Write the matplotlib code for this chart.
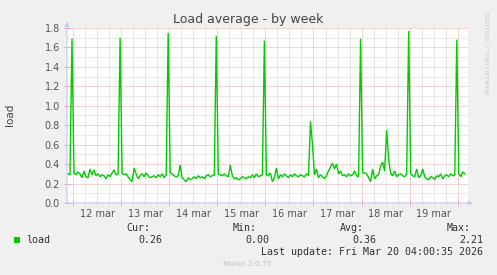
import numpy as np
import matplotlib
matplotlib.use('Agg')
import matplotlib.pyplot as plt
from matplotlib.ticker import MultipleLocator, FuncFormatter
from matplotlib.patches import Rectangle

# load average, one sample per hour, hours counted from 12 mar 00:00
start_11mar = [0.30, 0.29, 1.69]
day_12mar = [0.31, 0.29, 0.32, 0.30, 0.26, 0.33, 0.27, 0.26, 0.35, 0.29, 0.34, 0.28,
             0.30, 0.27, 0.29, 0.28, 0.25, 0.29, 0.27, 0.31, 0.34, 0.29, 0.30, 1.70]
day_13mar = [0.31, 0.29, 0.30, 0.27, 0.24, 0.22, 0.36, 0.30, 0.25, 0.28, 0.30, 0.27,
             0.31, 0.28, 0.26, 0.27, 0.28, 0.26, 0.29, 0.27, 0.30, 0.26, 0.29, 1.75]
day_14mar = [0.31, 0.30, 0.28, 0.27, 0.28, 0.39, 0.26, 0.24, 0.22, 0.26, 0.24, 0.25,
             0.27, 0.25, 0.28, 0.26, 0.27, 0.25, 0.28, 0.29, 0.27, 0.28, 0.29, 1.72]
day_15mar = [0.30, 0.29, 0.28, 0.30, 0.28, 0.27, 0.39, 0.28, 0.25, 0.26, 0.24, 0.25,
             0.27, 0.26, 0.25, 0.27, 0.26, 0.29, 0.26, 0.30, 0.27, 0.28, 0.29, 1.67]
day_16mar = [0.29, 0.28, 0.31, 0.22, 0.26, 0.36, 0.25, 0.29, 0.27, 0.30, 0.28, 0.26,
             0.29, 0.27, 0.30, 0.28, 0.27, 0.29, 0.28, 0.27, 0.30, 0.28, 0.84, 0.60]
day_17mar = [0.29, 0.35, 0.26, 0.29, 0.27, 0.25, 0.28, 0.33, 0.37, 0.41, 0.35, 0.40,
             0.30, 0.33, 0.28, 0.29, 0.27, 0.30, 0.28, 0.29, 0.33, 0.28, 0.27, 1.69]
day_18mar = [0.31, 0.31, 0.30, 0.26, 0.22, 0.35, 0.25, 0.28, 0.29, 0.38, 0.42, 0.33,
             0.75, 0.45, 0.31, 0.28, 0.33, 0.27, 0.29, 0.30, 0.28, 0.27, 0.30, 1.77]
day_19mar = [0.30, 0.28, 0.27, 0.35, 0.26, 0.28, 0.35, 0.27, 0.25, 0.24, 0.27, 0.26,
             0.24, 0.28, 0.27, 0.30, 0.25, 0.28, 0.29, 0.27, 0.30, 0.28, 0.29, 1.68]
end_20mar = [0.30, 0.27, 0.32, 0.30]

day_labels = ['12 mar', '13 mar', '14 mar', '15 mar', '16 mar', '17 mar', '18 mar', '19 mar']
y_ticks = [0.0, 0.2, 0.4, 0.6, 0.8, 1.0, 1.2, 1.4, 1.6, 1.8]

legend_name = 'load'
cur_val, min_val, avg_val, max_val = '0.26', '0.00', '0.36', '2.21'
last_update = 'Last update: Fri Mar 20 04:00:35 2026'

load = np.array(start_11mar + day_12mar + day_13mar + day_14mar + day_15mar +
                day_16mar + day_17mar + day_18mar + day_19mar + end_20mar)
hours = np.arange(len(load)) - len(start_11mar) + 0.5

W, H = 497, 275
fig = plt.figure(figsize=(W / 100, H / 100), dpi=100, facecolor='#f0f0f0')

# plot area in pixels: x 67..468, y 28..203
ax = fig.add_axes([67 / W, 1 - 203 / H, 401 / W, 175 / H])
ax.set_facecolor('white')

ax.plot(hours, load, color='#00cc00', lw=1.0, solid_joinstyle='miter')

ax.set_xlim(-2.99, 197.1)
ax.set_ylim(0, 1.8)

red = '#e8a8a8'
grey = '#d4d4d4'
ax.xaxis.set_major_locator(MultipleLocator(24))
ax.xaxis.set_minor_locator(MultipleLocator(6))
ax.xaxis.set_major_formatter(FuncFormatter(lambda v, p: ''))


def noon_label(v, p):
    k = int(round(v))
    if k % 24 == 12 and 0 <= k // 24 < len(day_labels):
        return day_labels[k // 24]
    return ''


ax.xaxis.set_minor_formatter(FuncFormatter(noon_label))
ax.set_yticks(y_ticks)
ax.set_yticklabels(['%.1f' % v for v in y_ticks])
ax.yaxis.set_minor_locator(MultipleLocator(0.1))

ax.grid(which='major', color=red, linestyle=(0, (1, 1)), lw=0.72)
ax.grid(which='minor', color=grey, linestyle=(0, (1, 1)), lw=0.72)
ax.set_axisbelow(True)

ax.tick_params(which='both', labelsize=7, labelcolor='#555555', direction='inout', width=0.7)
ax.tick_params(axis='x', which='major', length=4, color=red, pad=3)
ax.tick_params(axis='x', which='minor', length=3, color=grey, pad=3)
ax.tick_params(axis='y', which='major', length=4, color=red, pad=3)
ax.tick_params(axis='y', which='minor', length=0)

for s in ax.spines.values():
    s.set_visible(False)

axis_col = '#c4c8f0'
ax.annotate('', xy=(0, 1.035), xytext=(0, 0), xycoords='axes fraction',
            arrowprops=dict(arrowstyle='-|>', color=axis_col, lw=0.8,
                            mutation_scale=6, shrinkA=0, shrinkB=0))
ax.annotate('', xy=(1.012, 0), xytext=(0, 0), xycoords='axes fraction',
            arrowprops=dict(arrowstyle='-|>', color=axis_col, lw=0.8,
                            mutation_scale=6, shrinkA=0, shrinkB=0))


def px(x, y):
    return x / W, 1 - y / H


fig.text(*px(248, 19), 'Load average - by week', ha='center', va='center',
         fontsize=9, color='#444444')
fig.text(*px(9.5, 114.5), 'load', ha='center', va='center', rotation=90,
         fontsize=7.5, color='#444444')
fig.text(*px(485.5, 53), 'RRDTOOL / TOBI OETIKER', ha='center', va='center',
         rotation=270, fontsize=4.6, color='#c8c8c8')

mono = dict(family='DejaVu Sans Mono', fontsize=7.2, color='#333333', va='center')
fig.patches.append(Rectangle(px(14, 243), 6 / W, 6 / H, transform=fig.transFigure,
                             facecolor='#00cc00', edgecolor='none'))
fig.text(*px(26, 240), legend_name, ha='left', **mono)
for head, val, xr in [('Cur:', cur_val, 162), ('Min:', min_val, 269),
                      ('Avg:', avg_val, 376), ('Max:', max_val, 483)]:
    fig.text(*px(xr - 12, 228), head, ha='right', **mono)
    fig.text(*px(xr, 240), val, ha='right', **mono)
fig.text(*px(483, 252), last_update, ha='right', **mono)
fig.text(*px(247.5, 264), 'Munin 2.0.75', ha='center', va='center',
         fontsize=5.3, color='#c0c0c0')

fig.savefig('out.png', dpi=100, facecolor=fig.get_facecolor())
